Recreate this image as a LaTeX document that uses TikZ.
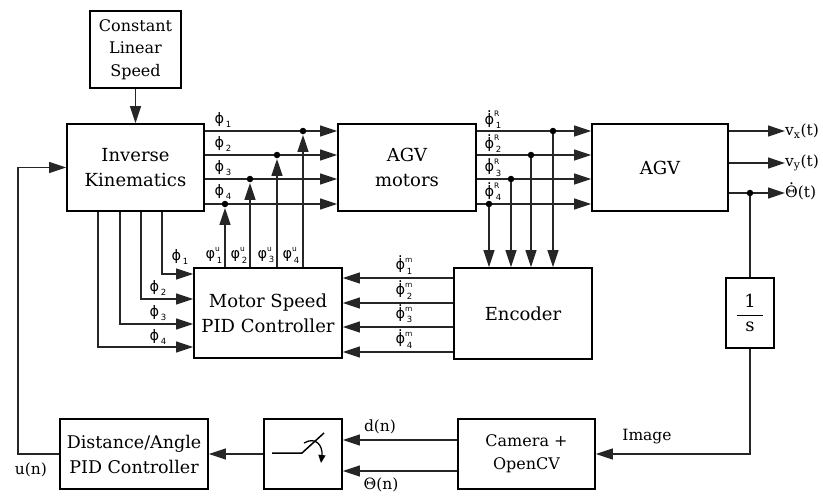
\RequirePackage{fix-cm}
\documentclass[tikz,border=0pt]{standalone}
\usepackage{fontspec}
\setmainfont{DejaVu Serif}
\newfontfamily\phifont{DejaVu Sans}
\usetikzlibrary{arrows.meta}
\newcommand\lbl[3]{{\phifont #1\makebox[0pt][l]{\raisebox{0.5em}{\fontsize{7.5}{8}\selectfont #2}}\raisebox{-0.32em}{\fontsize{8.5}{9}\selectfont\kern0.2em #3}}}
\newcommand\dphi{{\ooalign{ϕ\cr\hidewidth\raisebox{0.8em}{.}\hidewidth\cr}}}
\newcommand\dTheta{{\ooalign{Θ\cr\hidewidth\raisebox{0.82em}{.}\hidewidth\cr}}}
\begin{document}
\begin{tikzpicture}[x=1pt,y=-1pt,
 blk/.style={draw=black, line width=1.8pt, rectangle, inner sep=0pt, align=center, font=\fontsize{18}{25}\selectfont},
 con/.style={draw=black!85, line width=1.3pt},
 arr/.style={con, -{Triangle[length=17pt,width=11pt]}},
 dotc/.style={circle, fill=black, inner sep=0pt, minimum size=6.5pt},
 lab/.style={inner sep=0pt, font=\fontsize{14.5}{15}\selectfont},
 slab/.style={inner sep=0pt, font=\fontsize{15.5}{18}\selectfont}
]
\useasboundingbox (0,0) rectangle (823,496);
% blocks
\node[blk, minimum width=91pt, minimum height=77pt, font=\fontsize{16}{22.5}\selectfont] (cls) at (135.5,49.5) {Constant\\Linear\\Speed};
\node[blk, minimum width=137pt, minimum height=87pt] (ik) at (135.5,167.5) {Inverse\\Kinematics};
\node[blk, minimum width=138pt, minimum height=87pt] (mot) at (407,167.5) {AGV\\motors};
\node[blk, minimum width=136pt, minimum height=87pt] (agv) at (660,167.5) {AGV};
\node[blk, minimum width=148pt, minimum height=90pt] (pid) at (268,313) {Motor Speed\\PID Controller};
\node[blk, minimum width=138pt, minimum height=91pt] (enc) at (523,313.5) {Encoder};
\node[blk, minimum width=48pt, minimum height=70pt] (int) at (750,313) {$\displaystyle\frac{\hbox{\hspace{7pt}1\hspace{7pt}}}{\hbox{s}}$};
\node[blk, minimum width=137pt, minimum height=70pt, font=\fontsize{16}{23}\selectfont] (cam) at (526.5,454) {Camera +\\OpenCV};
\node[blk, minimum width=78pt, minimum height=70pt] (smp) at (303,454) {};
\node[blk, minimum width=148pt, minimum height=70pt, font=\fontsize{17.5}{25}\selectfont] (dap) at (134,454) {Distance/Angle\\PID Controller};
% row coordinates
\coordinate (r1) at (0,131);
\coordinate (r2) at (0,155);
\coordinate (r3) at (0,179);
\coordinate (r4) at (0,204);
\foreach \r in {r1,r2,r3,r4}{
  \draw[arr] (ik.east |- \r) -- (mot.west |- \r);
  \draw[arr] (mot.east |- \r) -- (agv.west |- \r);
}
\draw[arr] (cls.south) -- (ik.north);
% junctions on phi lines
\node[dotc] (j1) at (303,131) {};
\node[dotc] (j2) at (277,155) {};
\node[dotc] (j3) at (250,179) {};
\node[dotc] (j4) at (225,204) {};
\foreach \j in {j1,j2,j3,j4}{
  \draw[arr, shorten >=0.5pt] (pid.north -| \j) -- (\j.south);
}
% junctions on phi^R lines
\node[dotc] (k1) at (553,131) {};
\node[dotc] (k2) at (531,155) {};
\node[dotc] (k3) at (511,179) {};
\node[dotc] (k4) at (489,204) {};
\foreach \k in {k1,k2,k3,k4}{
  \draw[arr] (\k) -- (enc.north -| \k);
}
% encoder -> pid
\coordinate (e1) at (0,278);
\coordinate (e2) at (0,303);
\coordinate (e3) at (0,327);
\coordinate (e4) at (0,352);
\foreach \e in {e1,e2,e3,e4}{
  \draw[arr] (enc.west |- \e) -- (pid.east |- \e);
}
% IK -> pid
\coordinate (c1) at (162,274);
\coordinate (c2) at (141,299);
\coordinate (c3) at (120,324);
\coordinate (c4) at (98,347);
\foreach \c in {c1,c2,c3,c4}{
  \draw[arr] (ik.south -| \c) |- (pid.west |- \c);
}
% labels top
\node[lab] at (223,120) {\lbl{ϕ}{}{1}};
\node[lab] at (223,144) {\lbl{ϕ}{}{2}};
\node[lab] at (223,168) {\lbl{ϕ}{}{3}};
\node[lab] at (223,192) {\lbl{ϕ}{}{4}};
\node[lab] at (493,120) {\lbl{\dphi}{R}{1}};
\node[lab] at (493,144) {\lbl{\dphi}{R}{2}};
\node[lab] at (493,168) {\lbl{\dphi}{R}{3}};
\node[lab] at (493,192) {\lbl{\dphi}{R}{4}};
\node[lab] at (404,266) {\lbl{\dphi}{m}{1}};
\node[lab] at (404,291) {\lbl{\dphi}{m}{2}};
\node[lab] at (404,315) {\lbl{\dphi}{m}{3}};
\node[lab] at (404,340) {\lbl{\dphi}{m}{4}};
\node[lab] at (180,257) {\lbl{ϕ}{}{1}};
\node[lab] at (158,288) {\lbl{ϕ}{}{2}};
\node[lab] at (158,313) {\lbl{ϕ}{}{3}};
\node[lab] at (158,337) {\lbl{ϕ}{}{4}};
\node[lab] at (214,255) {\lbl{φ}{u}{1}};
\node[lab] at (239,255) {\lbl{φ}{u}{2}};
\node[lab] at (266,255) {\lbl{φ}{u}{3}};
\node[lab] at (291,255) {\lbl{φ}{u}{4}};
% outputs
\node[slab, anchor=west] (vx) at (785,131) {v\textsubscript{x}(t)};
\node[slab, anchor=west] (vy) at (785,163) {v\textsubscript{y}(t)};
\node[slab, anchor=west] (th) at (785,193) {\dTheta(t)};
\draw[arr] (agv.east |- vx) -- (vx.west);
\draw[arr] (agv.east |- vy) -- (vy.west);
\draw[arr] (agv.east |- th) -- (th.west);
\node[dotc] (jt) at (750,193) {};
\draw[con] (jt) -- (int.north);
\draw[arr] (int.south) |- (cam.east);
\node[slab] at (647,437) {Image};
% camera -> sampler
\coordinate (d1) at (0,440);
\coordinate (d2) at (0,471);
\draw[arr] (cam.west |- d1) -- (smp.east |- d1);
\draw[arr] (cam.west |- d2) -- (smp.east |- d2);
\node[slab] at (380,427) {d(n)};
\node[slab] at (381,485) {Θ(n)};
% sampler symbol
\draw[draw=black, line width=1.5pt] (272,453) -- (302,453) -- (324,433);
\draw[draw=black, line width=1.3pt, -{Triangle[length=8pt,width=7pt]}] (304,443) .. controls (316,436) and (323,446) .. (321,463);
% sampler -> dap -> ik
\draw[arr] (smp.west) -- (dap.east);
\coordinate (fb) at (18,0);
\draw[arr] (dap.west) -- (fb |- dap.west) -- (fb |- ik.west) -- (ik.west);
\node[slab] at (31,470) {u(n)};
\end{tikzpicture}
\end{document}
